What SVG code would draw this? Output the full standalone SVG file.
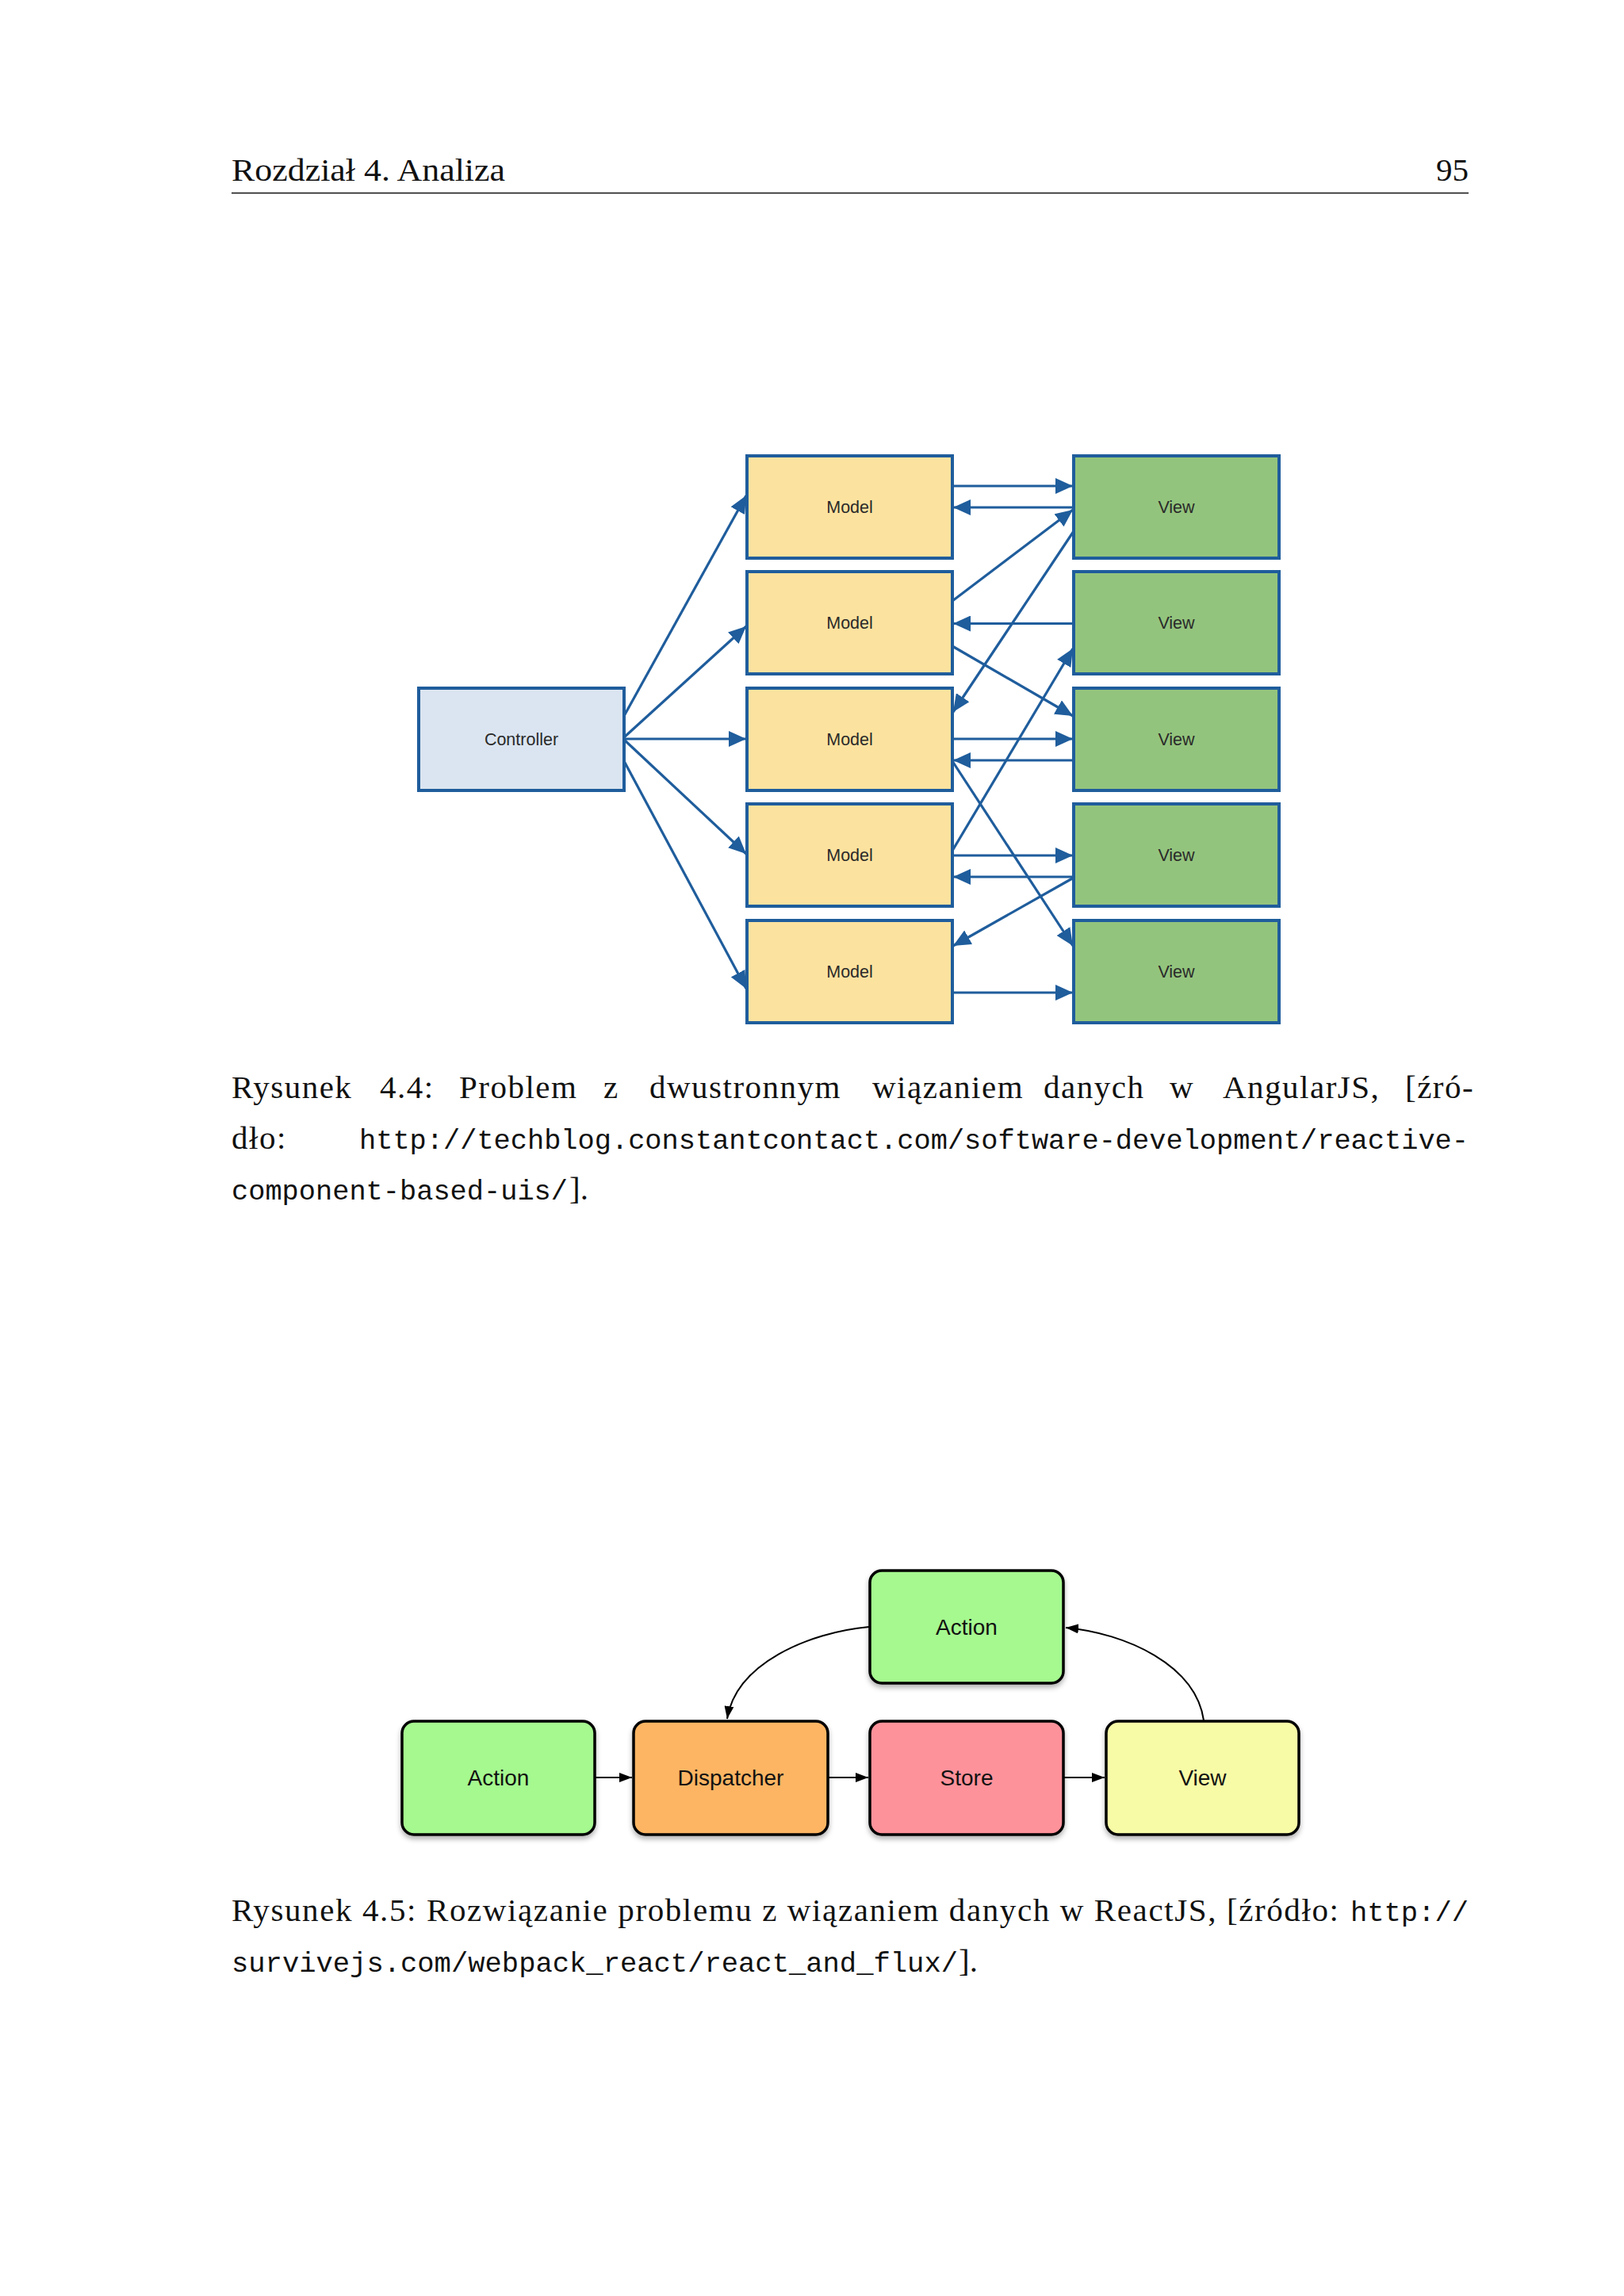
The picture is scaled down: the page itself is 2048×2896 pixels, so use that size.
<svg xmlns="http://www.w3.org/2000/svg" width="2048" height="2896" viewBox="0 0 2048 2896">
<defs>
<style>
.serif{font-family:"Liberation Serif","DejaVu Serif",serif;font-size:41px;fill:#111}
.mono{font-family:"Liberation Mono","DejaVu Sans Mono",monospace;font-size:35.5px;fill:#111}
.nbox{stroke:#1f5d9c;stroke-width:4}
.model{fill:#fce29f}
.view{fill:#93c47d}
.ctrl{fill:#dbe5f1}
.nlabel{font-family:"Liberation Sans",Arial,sans-serif;font-size:21.5px;fill:#2a2a2a;text-anchor:middle}
.conn line{stroke:#1f5d9c;stroke-width:3.2;marker-end:url(#blueArrow)}
.fbox{stroke:#000;stroke-width:3.5;filter:url(#shadow)}
.flabel{font-family:"Liberation Sans",Arial,sans-serif;font-size:28px;fill:#111;text-anchor:middle}
.fconn{stroke:#000;stroke-width:2;fill:none;marker-end:url(#blackArrow)}
</style>
<marker id="blueArrow" markerUnits="userSpaceOnUse" markerWidth="22" markerHeight="20" refX="22" refY="10" orient="auto">
<path d="M0,0 L22,10 L0,20 z" fill="#1f5d9c"/>
</marker>
<marker id="blackArrow" markerUnits="userSpaceOnUse" markerWidth="16" markerHeight="12" refX="16" refY="6" orient="auto">
<path d="M0,0 L16,6 L0,12 z" fill="#000"/>
</marker>
<filter id="shadow" x="-10%" y="-10%" width="120%" height="130%">
<feDropShadow dx="0" dy="4" stdDeviation="3" flood-color="#000" flood-opacity="0.3"/>
</filter>
</defs>
<rect x="0" y="0" width="2048" height="2896" fill="#ffffff"/>

<!-- Header -->
<g id="header">
<text class="serif" x="292" y="228" textLength="345" lengthAdjust="spacingAndGlyphs">Rozdział 4. Analiza</text>
<text class="serif" x="1852" y="228" text-anchor="end">95</text>
<line x1="292" y1="243.5" x2="1852" y2="243.5" stroke="#111" stroke-width="1.7"/>
</g>

<!-- Figure 4.4 -->
<g id="fig44">
<g id="controller">
<rect class="nbox ctrl" x="528" y="868" width="259" height="129"/>
<text class="nlabel" x="657.5" y="940">Controller</text>
</g>
<g id="model1"><rect class="nbox model" x="942" y="575" width="259" height="129"/><text class="nlabel" x="1071.5" y="647">Model</text></g>
<g id="model2"><rect class="nbox model" x="942" y="721" width="259" height="129"/><text class="nlabel" x="1071.5" y="793">Model</text></g>
<g id="model3"><rect class="nbox model" x="942" y="868" width="259" height="129"/><text class="nlabel" x="1071.5" y="940">Model</text></g>
<g id="model4"><rect class="nbox model" x="942" y="1014" width="259" height="129"/><text class="nlabel" x="1071.5" y="1086">Model</text></g>
<g id="model5"><rect class="nbox model" x="942" y="1161" width="259" height="129"/><text class="nlabel" x="1071.5" y="1233">Model</text></g>
<g id="view1"><rect class="nbox view" x="1354" y="575" width="259" height="129"/><text class="nlabel" x="1483.5" y="647">View</text></g>
<g id="view2"><rect class="nbox view" x="1354" y="721" width="259" height="129"/><text class="nlabel" x="1483.5" y="793">View</text></g>
<g id="view3"><rect class="nbox view" x="1354" y="868" width="259" height="129"/><text class="nlabel" x="1483.5" y="940">View</text></g>
<g id="view4"><rect class="nbox view" x="1354" y="1014" width="259" height="129"/><text class="nlabel" x="1483.5" y="1086">View</text></g>
<g id="view5"><rect class="nbox view" x="1354" y="1161" width="259" height="129"/><text class="nlabel" x="1483.5" y="1233">View</text></g>

<g id="connectors44" class="conn">
<line x1="787" y1="903" x2="941" y2="625"/>
<line x1="787" y1="930" x2="941" y2="790"/>
<line x1="787" y1="932" x2="941" y2="932"/>
<line x1="787" y1="933" x2="941" y2="1077"/>
<line x1="787" y1="960" x2="941" y2="1247"/>
<line x1="1201" y1="613" x2="1353" y2="613"/>
<line x1="1354" y1="640" x2="1202" y2="640"/>
<line x1="1201" y1="758" x2="1353" y2="643"/>
<line x1="1354" y1="670" x2="1202" y2="898"/>
<line x1="1354" y1="786.5" x2="1202" y2="786.5"/>
<line x1="1201" y1="815" x2="1353" y2="903"/>
<line x1="1201" y1="1073" x2="1353" y2="818"/>
<line x1="1201" y1="932" x2="1353" y2="932"/>
<line x1="1354" y1="959" x2="1202" y2="959"/>
<line x1="1201" y1="960" x2="1353" y2="1193"/>
<line x1="1201" y1="1079" x2="1353" y2="1079"/>
<line x1="1354" y1="1106" x2="1202" y2="1106"/>
<line x1="1354" y1="1107" x2="1202" y2="1193"/>
<line x1="1201" y1="1252" x2="1353" y2="1252"/>
</g>
</g>

<!-- Caption 4.4 -->
<g id="caption44">
<text class="serif" y="1385" letter-spacing="1.5">
<tspan x="292">Rysunek</tspan><tspan x="479">4.4:</tspan><tspan x="579">Problem</tspan><tspan x="761">z</tspan><tspan x="819">dwustronnym</tspan><tspan x="1100">wiązaniem</tspan><tspan x="1316">danych</tspan><tspan x="1475">w</tspan><tspan x="1542">AngularJS,</tspan><tspan x="1772">[źró-</tspan>
</text>
<text class="serif" x="292" y="1449" letter-spacing="1.5">dło:</text>
<text class="mono" x="453" y="1449" textLength="1399" lengthAdjust="spacingAndGlyphs">http://techblog.constantcontact.com/software-development/reactive-</text>
<text class="mono" x="292" y="1513" textLength="424" lengthAdjust="spacingAndGlyphs">component-based-uis/</text>
<text class="serif" x="718" y="1513">].</text>
</g>

<!-- Figure 4.5 -->
<g id="fig45">
<g id="actionTop"><rect class="fbox" x="1097" y="1981" width="244" height="142" rx="15" fill="#a5f98f"/><text class="flabel" x="1219" y="2062">Action</text></g>
<g id="action"><rect class="fbox" x="507" y="2171" width="243" height="143" rx="15" fill="#a5f98f"/><text class="flabel" x="628.5" y="2252">Action</text></g>
<g id="dispatcher"><rect class="fbox" x="799" y="2171" width="245" height="143" rx="15" fill="#fdb563"/><text class="flabel" x="921.5" y="2252">Dispatcher</text></g>
<g id="store"><rect class="fbox" x="1097" y="2171" width="244" height="143" rx="15" fill="#fe929b"/><text class="flabel" x="1219" y="2252">Store</text></g>
<g id="view"><rect class="fbox" x="1395" y="2171" width="243" height="143" rx="15" fill="#f8fba6"/><text class="flabel" x="1516.5" y="2252">View</text></g>
<g id="connectors45">
<line class="fconn" x1="751" y1="2242" x2="797" y2="2242"/>
<line class="fconn" x1="1045" y1="2242" x2="1095" y2="2242"/>
<line class="fconn" x1="1342" y1="2242" x2="1393" y2="2242"/>
<path class="fconn" d="M1096,2052 C1020,2059 928,2098 917,2168"/>
<path class="fconn" d="M1518,2170 C1508,2100 1420,2060 1344,2053"/>
</g>
</g>

<!-- Caption 4.5 -->
<g id="caption45">
<text class="serif" x="292" y="2423" textLength="1396" lengthAdjust="spacing">Rysunek 4.5: Rozwiązanie problemu z wiązaniem danych w ReactJS, [źródło:</text>
<text class="mono" x="1703" y="2423" textLength="149" lengthAdjust="spacingAndGlyphs">http://</text>
<text class="mono" x="292" y="2487" textLength="916" lengthAdjust="spacingAndGlyphs">survivejs.com/webpack_react/react_and_flux/</text>
<text class="serif" x="1209" y="2487">].</text>
</g>
</svg>
